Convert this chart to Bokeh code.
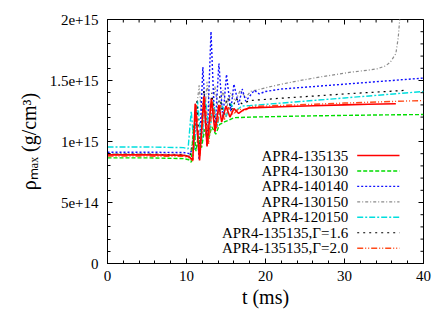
import numpy as np
from bokeh.plotting import figure
from bokeh.models import Range1d, FixedTicker, ColumnDataSource, Title
from bokeh.core.properties import value
from bokeh.embed import file_html
from bokeh.resources import INLINE

RHO_UNIT = 1e15  # data below are in units of 1e15 g/cm^3

# ---------------- data ----------------
t_135135 = [0, 5, 9.6, 10.3, 10.8, 11.1, 11.65, 12.2, 12.6, 13.15, 13.6, 14.1, 14.45, 15.0, 15.5,
            16.0, 16.6, 17.2, 18.1, 22, 26, 30, 33, 36.5]
r_135135 = [0.89, 0.89, 0.887, 0.875, 0.85, 1.31, 0.845, 1.37, 0.96, 1.35, 1.08, 1.30, 1.16, 1.29, 1.20,
            1.27, 1.23, 1.26, 1.276, 1.285, 1.293, 1.30, 1.305, 1.309]

t_130130 = [0, 5, 9.6, 10.3, 10.6, 10.9, 11.2, 11.5, 11.9, 12.3, 12.7, 13.2, 13.7, 14.2, 14.8,
            15.5, 16.0, 18.1, 24, 30, 35, 40]
r_130130 = [0.866, 0.866, 0.86, 0.85, 0.83, 1.13, 0.92, 1.05, 0.95, 1.10, 1.0, 1.12, 1.06, 1.14, 1.16,
            1.18, 1.195, 1.20, 1.208, 1.214, 1.218, 1.221]

t_140140 = [0, 5, 9.6, 10.4, 10.9, 11.2, 11.6, 12.07, 12.6, 13.1, 13.6, 14.1, 14.6, 15.06, 15.6,
            16.0, 16.6, 17.05, 17.5, 18.1, 18.6, 19.2, 20, 22, 26, 30, 34, 37, 40]
r_140140 = [0.912, 0.912, 0.91, 0.90, 0.95, 1.25, 0.85, 1.61, 0.97, 1.90, 1.08, 1.64, 1.19, 1.55, 1.25,
            1.47, 1.30, 1.43, 1.33, 1.38, 1.42, 1.39, 1.41, 1.43, 1.45, 1.47, 1.49, 1.505, 1.52]

t_130150 = [0, 5, 9.6, 10.4, 10.9, 11.6, 12.1, 12.6, 13.1, 13.6, 14.1, 14.6, 15.1, 15.6, 16.2,
            16.8, 17.5, 18.1, 20, 22, 24.4, 27, 30.8, 33, 34.1, 35.2, 35.8, 36.5, 36.8, 36.95, 37.05]
r_130150 = [0.90, 0.90, 0.895, 0.88, 1.05, 1.46, 1.05, 1.49, 1.15, 1.45, 1.22, 1.42, 1.28, 1.40, 1.33,
            1.42, 1.36, 1.41, 1.44, 1.47, 1.50, 1.53, 1.568, 1.585, 1.595, 1.62, 1.65, 1.72, 1.85, 1.97, 2.05]

t_120150 = [0, 5, 9.6, 10.2, 10.6, 11.0, 11.4, 11.9, 12.4, 12.9, 13.4, 13.9, 14.4, 15.0, 15.6,
            16.2, 17.0, 18.1, 22, 26, 30, 34, 40]
r_120150 = [0.955, 0.955, 0.95, 0.94, 1.25, 0.93, 1.33, 0.98, 1.35, 1.05, 1.33, 1.12, 1.32, 1.20, 1.31,
            1.25, 1.29, 1.295, 1.315, 1.336, 1.357, 1.378, 1.41]

t_g16 = [0, 5, 9.6, 10.4, 10.9, 11.3, 11.7, 12.2, 12.7, 13.2, 13.7, 14.2, 14.7, 15.2, 15.7,
         16.3, 17.0, 18.1, 22, 26, 30, 34, 37.9]
r_g16 = [0.895, 0.895, 0.89, 0.875, 1.0, 1.33, 0.90, 1.42, 1.0, 1.40, 1.12, 1.37, 1.20, 1.36, 1.26,
         1.35, 1.31, 1.336, 1.355, 1.372, 1.39, 1.405, 1.42]

t_g20 = [0, 5, 9.6, 10.4, 10.8, 11.2, 11.7, 12.3, 12.8, 13.3, 13.8, 14.3, 14.8, 15.3, 15.9,
         16.6, 17.3, 18.1, 24, 30, 35, 40]
r_g20 = [0.88, 0.88, 0.878, 0.865, 0.84, 1.30, 0.88, 1.36, 0.98, 1.33, 1.10, 1.30, 1.18, 1.28, 1.22,
         1.27, 1.25, 1.287, 1.30, 1.315, 1.326, 1.336]

series_labels = ["APR4-135135", "APR4-130130", "APR4-140140", "APR4-130150",
                 "APR4-120150", "APR4-135135,\u0393=1.6", "APR4-135135,\u0393=2.0"]
series_t = [t_135135, t_130130, t_140140, t_130150, t_120150, t_g16, t_g20]
series_r = [r_135135, r_130130, r_140140, r_130150, r_120150, r_g16, r_g20]

x_ticks = [0, 10, 20, 30, 40]
x_tick_labels = ["0", "10", "20", "30", "40"]
x_minor_step = 2
y_ticks = [0, 0.5, 1.0, 1.5, 2.0]
y_tick_labels = ["0", "5e+14", "1e+15", "1.5e+15", "2e+15"]
y_minor_step = 0.1

x_title = "t (ms)"
y_title = "\u03c1\u2098\u2090\u2093 (g/cm\u00b3)"

# ---------------- styles ----------------
colors = ["#ff0000", "#00dd00", "#1010ff", "#8c8c8c", "#00dede", "#000000", "#ff4a1a"]
dashes = ["solid", "4 2", "2 2", "3 2 1 2", "6 2 2 2", "2 4", "6 2 1 2 1 2"]
widths = [1.6, 1.4, 1.4, 1.2, 1.4, 1.2, 1.4]
draw_order = [3, 2, 4, 5, 1, 6, 0]

FONT = "Liberation Serif"
W, H = 447, 313
FL, FT, FW, FH = 107, 19, 316, 244
X0, X1 = 0, 40
Y0, Y1 = 0, 2.0 * RHO_UNIT
MAJ_IN, MIN_IN = 5, 3


def xd(px):
    return X0 + (px - FL) / FW * (X1 - X0)


def yd(px):
    return Y0 + (FT + FH - px) / FH * (Y1 - Y0)


p = figure(width=W, height=H, x_range=Range1d(X0, X1), y_range=Range1d(Y0, Y1),
           output_backend="svg", toolbar_location=None,
           min_border_left=FL, min_border_right=W - FL - FW,
           min_border_top=FT, min_border_bottom=H - FT - FH)
p.xgrid.visible = False
p.ygrid.visible = False
p.outline_line_color = "black"
p.outline_line_width = 1
p.background_fill_color = "white"
p.border_fill_color = "white"

x_minor = list(np.arange(X0, X1 + 1e-9, x_minor_step))
y_minor = [v * RHO_UNIT for v in np.arange(0, 2.0 + 1e-9, y_minor_step)]
xt = FixedTicker(ticks=x_ticks, minor_ticks=x_minor)
yt = FixedTicker(ticks=[v * RHO_UNIT for v in y_ticks], minor_ticks=y_minor)


def style_axis(ax, ticker):
    ax.ticker = ticker
    ax.axis_line_color = "black"
    ax.major_tick_line_color = "black"
    ax.minor_tick_line_color = "black"
    ax.major_tick_in = MAJ_IN
    ax.major_tick_out = 0
    ax.minor_tick_in = MIN_IN
    ax.minor_tick_out = 0
    ax.major_label_text_font = FONT
    ax.major_label_text_font_style = "normal"
    ax.major_label_text_color = "black"
    ax.major_label_text_font_size = "15px"


xa = p.xaxis[0]
style_axis(xa, xt)
xa.major_label_standoff = 7
xa.major_label_overrides = {float(v): s for v, s in zip(x_ticks, x_tick_labels)}

ya = p.yaxis[0]
style_axis(ya, yt)
ya.major_label_standoff = 9
ya.major_label_overrides = {float(v * RHO_UNIT): s for v, s in zip(y_ticks, y_tick_labels)}

# axis titles as side-panel titles
p.add_layout(Title(text=x_title, align="center", text_font=FONT, text_font_size="20px",
                   text_font_style="normal", text_color="black", standoff=0), "below")
p.add_layout(Title(text=y_title, align="center", text_font=FONT, text_font_size="20px",
                   text_font_style="normal", text_color="black", standoff=14), "left")

# mirrored inward ticks on the top and right frame edges
dy_maj = MAJ_IN / FH * (Y1 - Y0)
dy_min = MIN_IN / FH * (Y1 - Y0)
dx_maj = MAJ_IN / FW * (X1 - X0)
dx_min = MIN_IN / FW * (X1 - X0)
p.segment(x0=x_ticks, x1=x_ticks, y0=[Y1] * len(x_ticks), y1=[Y1 - dy_maj] * len(x_ticks),
          line_color="black", line_width=1)
p.segment(x0=x_minor, x1=x_minor, y0=[Y1] * len(x_minor), y1=[Y1 - dy_min] * len(x_minor),
          line_color="black", line_width=1)
yt_major = [v * RHO_UNIT for v in y_ticks]
p.segment(x0=[X1] * len(yt_major), x1=[X1 - dx_maj] * len(yt_major), y0=yt_major, y1=yt_major,
          line_color="black", line_width=1)
p.segment(x0=[X1] * len(y_minor), x1=[X1 - dx_min] * len(y_minor), y0=y_minor, y1=y_minor,
          line_color="black", line_width=1)

# ---------------- curves ----------------
for i in draw_order:
    p.line(np.array(series_t[i]), np.array(series_r[i]) * RHO_UNIT,
           line_color=colors[i], line_dash=dashes[i], line_width=widths[i])

# ---------------- legend (text right-aligned, sample to the right) ----------------
row_px = [155 + 15.45 * k for k in range(len(series_labels))]
leg_src = ColumnDataSource(dict(x=[xd(347.7)] * len(series_labels),
                                y=[yd(r) for r in row_px], text=series_labels))
p.text(x="x", y="y", text="text", source=leg_src, text_align="right", text_baseline="middle",
       text_font=value(FONT), text_font_size="15px", text_color="black")
for k in range(len(series_labels)):
    p.line([xd(356.7), xd(399)], [yd(row_px[k]), yd(row_px[k])],
           line_color=colors[k], line_dash=dashes[k], line_width=widths[k])

open("out.html", "w").write(file_html(p, INLINE))
